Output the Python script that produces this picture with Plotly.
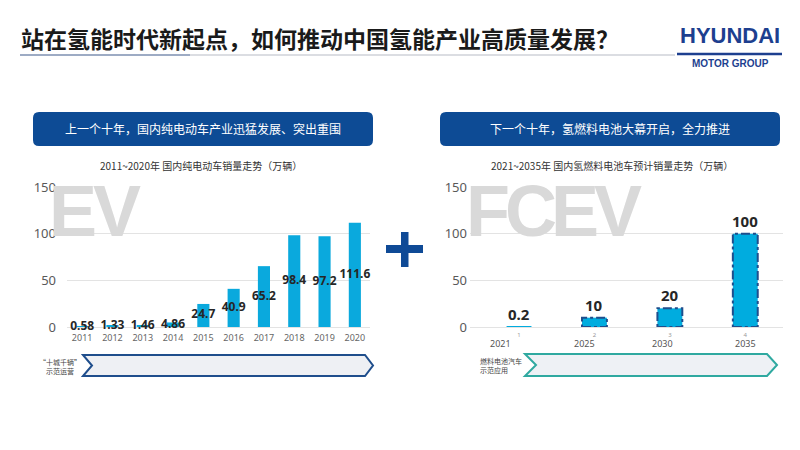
import plotly.graph_objects as go

# ---------------- data ----------------
ev_years = ['2011', '2012', '2013', '2014', '2015', '2016', '2017', '2018', '2019', '2020']
ev_sales = [0.58, 1.33, 1.46, 4.86, 24.7, 40.9, 65.2, 98.4, 97.2, 111.6]

fcev_years = ['2021', '2025', '2030', '2035']
fcev_index = ['1', '2', '3', '4']
fcev_sales = [0.2, 10, 20, 100]

y_ticks = [0, 50, 100, 150]

title_text = '站在氢能时代新起点，如何推动中国氢能产业高质量发展？'
left_header = '上一个十年，国内纯电动车产业迅猛发展、突出重围'
right_header = '下一个十年，氢燃料电池大幕开启，全力推进'
left_sub = '2011~2020年 国内纯电动车销量走势（万辆）'
right_sub = '2021~2035年 国内氢燃料电池车预计销量走势（万辆）'
left_band = '“十城千辆”<br>示范运营'
right_band = '燃料电池汽车<br>示范应用'
left_mark = 'EV'
right_mark = 'FCEV'

# ---------------- helpers ----------------
W, H = 800, 450
def PX(x): return x / W
def PY(y): return 1 - y / H

CJK = 'Noto Sans CJK SC'
BLUE = '#0d4b95'
BAR = '#0aa9dd'

fig = go.Figure()

# left bars
fig.add_trace(go.Bar(x=ev_years, y=ev_sales, width=0.4, marker=dict(color=BAR, line=dict(width=0)),
                     xaxis='x', yaxis='y', hoverinfo='skip'))
fig.add_trace(go.Scatter(x=ev_years, y=[v / 2 for v in ev_sales], mode='text',
                         text=[f'{v:g}' for v in ev_sales], textposition='middle center',
                         textfont=dict(family='Noto Sans', size=12, color='#262626', weight='bold'),
                         xaxis='x', yaxis='y', cliponaxis=False, hoverinfo='skip'))

# right bars
fcev_x = [i + 1 for i in range(len(fcev_sales))]
fig.add_trace(go.Bar(x=fcev_x, y=fcev_sales, width=0.33, marker=dict(color='#00acdf', line=dict(width=0)),
                     xaxis='x2', yaxis='y2', hoverinfo='skip'))

shapes = []
# dashed outlines on forecast bars
for xi, v in zip(fcev_x, fcev_sales):
    if v >= 1:
        shapes.append(dict(type='rect', xref='x2', yref='y2', x0=xi - 0.165, x1=xi + 0.165, y0=0, y1=v,
                           line=dict(color='#1f4e8c', width=2, dash='dashdot'), layer='above'))

# title underline
shapes.append(dict(type='line', xref='paper', yref='paper', x0=PX(20), x1=PX(190), y0=PY(55), y1=PY(55),
                   line=dict(color='#7d8fb0', width=1.5)))
shapes.append(dict(type='line', xref='paper', yref='paper', x0=PX(190), x1=PX(675), y0=PY(55), y1=PY(55),
                   line=dict(color='#b7bcc6', width=1.2)))
shapes.append(dict(type='line', xref='paper', yref='paper', x0=PX(677), x1=PX(782), y0=PY(54), y1=PY(54),
                   line=dict(color='#1d3f8f', width=2.5)))

def rrect(x0, y0, x1, y1, r):
    X0, X1, T, B = PX(x0), PX(x1), PY(y0), PY(y1)
    rx, ry = r / W, r / H
    return (f'M {X0+rx},{T} L {X1-rx},{T} Q {X1},{T} {X1},{T-ry} L {X1},{B+ry} '
            f'Q {X1},{B} {X1-rx},{B} L {X0+rx},{B} Q {X0},{B} {X0},{B+ry} '
            f'L {X0},{T-ry} Q {X0},{T} {X0+rx},{T} Z')

shapes.append(dict(type='path', xref='paper', yref='paper', path=rrect(33, 112, 373, 146, 6),
                   fillcolor=BLUE, line=dict(width=0)))
shapes.append(dict(type='path', xref='paper', yref='paper', path=rrect(440, 112, 780, 146, 6),
                   fillcolor=BLUE, line=dict(width=0)))

def chevron(x0, xn, x1, xt, y0, y1):
    ym = (y0 + y1) / 2
    pts = [(x0, y0), (x1, y0), (xt, ym), (x1, y1), (x0, y1), (xn, ym)]
    return 'M ' + ' L '.join(f'{PX(a)},{PY(b)}' for a, b in pts) + ' Z'

shapes.append(dict(type='path', xref='paper', yref='paper', path=chevron(83, 92, 365, 373, 355, 376),
                   fillcolor='#eef0f4', line=dict(color='#1f4e8c', width=2)))
shapes.append(dict(type='path', xref='paper', yref='paper', path=chevron(525, 536, 767, 777, 354, 376),
                   fillcolor='#eef1f5', line=dict(color='#2fa9a0', width=2)))

# plus sign
shapes.append(dict(type='rect', xref='paper', yref='paper', x0=PX(386), x1=PX(423), y0=PY(253), y1=PY(245),
                   fillcolor='#0f4a96', line=dict(width=0)))
shapes.append(dict(type='rect', xref='paper', yref='paper', x0=PX(401), x1=PX(408.5), y0=PY(267), y1=PY(232),
                   fillcolor='#0f4a96', line=dict(width=0)))

annotations = []
def ann(text, x, y, size, color, bold=False, family=CJK, xanchor='center', align='center', **kw):
    annotations.append(dict(text=text, x=PX(x), y=PY(y), xref='paper', yref='paper', showarrow=False,
                            xanchor=xanchor, yanchor='middle', align=align,
                            font=dict(family=family, size=size, color=color, weight='bold' if bold else 'normal'),
                            **kw))

# watermarks: letters set tightly (condensed look)
WM = 'Liberation Sans, Arial'
for ch, cx in zip(left_mark, [72.5, 117]):
    ann(ch, cx, 211, 72, '#d9d9d9', bold=True, family=WM)
for ch, cx in zip(right_mark, [488, 530.5, 574.5, 617.5]):
    ann(ch, cx, 211, 72, '#d9d9d9', bold=True, family=WM)

ann(title_text, 19, 38, 23, '#1a1a1a', bold=True, xanchor='left')
ann('HYUNDAI', 729.5, 36, 22, '#1d3f8f', bold=True, family='Liberation Sans, Arial')
ann('MOTOR GROUP', 730, 63, 10, '#1d3f8f', bold=True, family='Liberation Sans, Arial')
ann(left_header, 203, 129, 12, 'white')
ann(right_header, 610, 129, 12, 'white')
ann(left_sub, 201, 165, 10, '#333333')
ann(right_sub, 612, 165, 10, '#333333')
ann(left_band, 60, 366, 7, '#444444')
ann(right_band, 478, 365.5, 7, '#444444', xanchor='left', align='left')

# forecast value labels above bars
for xi, v in zip(fcev_x, fcev_sales):
    annotations.append(dict(text=f'{v:g}', x=xi, xref='x2', y=v, yref='y2', showarrow=False,
                            yshift=13, xanchor='center', yanchor='middle',
                            font=dict(family='Noto Sans', size=15, color='#262626', weight='bold')))

# forecast year labels under the small index ticks
year_shift = [-19, -10, -7, 0]
for xi, lab, sh in zip(fcev_x, fcev_years, year_shift):
    annotations.append(dict(text=lab, x=xi, xref='x2', y=PY(343.5), yref='paper', showarrow=False,
                            xshift=sh, xanchor='center', yanchor='middle',
                            font=dict(family='Noto Sans', size=9, color='#555555')))

axis_common_y = dict(range=[0, 150], tickvals=y_ticks, showgrid=True, gridcolor='#e3e3e3', gridwidth=1,
                     zeroline=True, zerolinecolor='#e3e3e3', zerolinewidth=1, showline=False,
                     automargin=False,
                     tickfont=dict(family='Noto Sans', size=13, color='#595959'), fixedrange=True)

fig.update_layout(
    width=W, height=H, autosize=False,
    margin=dict(l=0, r=0, t=0, b=0, pad=0, autoexpand=False),
    paper_bgcolor='white', plot_bgcolor='rgba(0,0,0,0)',
    showlegend=False,
    barmode='overlay',
    xaxis=dict(domain=[PX(67), PX(370)], type='category', showgrid=False, showline=False, zeroline=False,
               automargin=False,
               tickfont=dict(family='Noto Sans', size=9, color='#666666'), ticks='', ticklabelstandoff=4,
               anchor='y'),
    yaxis=dict(domain=[PY(327), PY(187)], anchor='x', ticklabelstandoff=10, **axis_common_y),
    xaxis2=dict(domain=[PX(470), PX(783)], range=[0.35, 4.5], tickvals=fcev_x, ticktext=fcev_index,
                showgrid=False, showline=False, zeroline=False, ticks='', ticklabelstandoff=3,
                automargin=False,
                tickfont=dict(family='Noto Sans', size=6, color='#999999'), anchor='y2'),
    yaxis2=dict(domain=[PY(327), PY(187)], anchor='x2', ticklabelstandoff=2, **axis_common_y),
    shapes=shapes,
    annotations=annotations,
)

fig.write_html(
    'out.html',
    config={'displayModeBar': False, 'responsive': False},
    post_script=("document.body.style.margin='0';document.body.style.overflow='hidden';"
                 "var gd=document.getElementById('{plot_id}');"
                 "Plotly.relayout(gd,{width:800,height:450});"),
)
